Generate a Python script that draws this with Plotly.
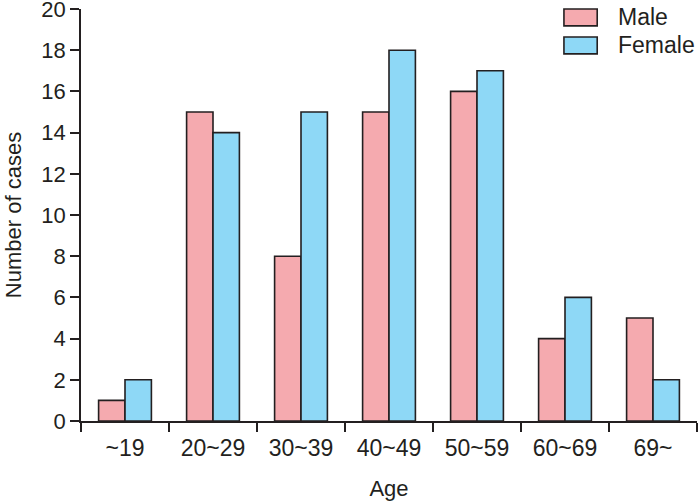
import plotly.graph_objects as go

categories = ["~19", "20~29", "30~39", "40~49", "50~59", "60~69", "69~"]
male = [1, 15, 8, 15, 16, 4, 5]
female = [2, 14, 15, 18, 17, 6, 2]
series_names = ["Male", "Female"]
colors = ["#F5AAAF", "#8ED8F6"]
y_ticks = list(range(0, 21, 2))

line_col = "#231F20"
family = "Liberation Sans, Arial, sans-serif"
font = dict(family=family, size=22, color=line_col)
legend_font = dict(family=family, size=23, color=line_col)
xtick_font = dict(family=family, size=23, color=line_col)
ytick_font = dict(family=family, size=22, color=line_col)

fig = go.Figure()
for name, vals, col in zip(series_names, [male, female], colors):
    fig.add_trace(go.Bar(
        x=categories, y=vals, name=name,
        marker=dict(color=col, line=dict(color=line_col, width=1.6)),
        showlegend=False, hoverinfo="skip",
    ))

# custom legend (boxes + labels) in paper coordinates
leg_y = [[1.0, 0.959], [0.932, 0.891]]
for (y1, y0), name, col in zip(leg_y, series_names, colors):
    fig.add_shape(type="rect", xref="paper", yref="paper",
                  x0=0.784, x1=0.838, y0=y0, y1=y1,
                  fillcolor=col, line=dict(color=line_col, width=1.6))
    fig.add_annotation(xref="paper", yref="paper", x=0.869, y=(y0 + y1) / 2,
                       text=name, showarrow=False, xanchor="left", yanchor="middle",
                       font=legend_font)

fig.update_layout(
    width=700, height=501,
    margin=dict(l=81, r=3, t=9, b=80, autoexpand=False),
    plot_bgcolor="white", paper_bgcolor="white",
    barmode="group", bargap=0.4, bargroupgap=0,
    font=font,
)
fig.update_xaxes(
    title=dict(text="Age", font=font, standoff=20),
    showline=True, linecolor=line_col, linewidth=1.6,
    ticks="outside", tickson="boundaries", ticklen=9, tickwidth=1.6, tickcolor=line_col,
    ticklabelstandoff=6,
    showgrid=False, tickfont=xtick_font, automargin=False,
)
fig.update_yaxes(
    title=dict(text="Number of cases", font=font, standoff=14),
    range=[0, 20], tickvals=y_ticks, ticklabeloverflow="allow",
    showline=True, linecolor=line_col, linewidth=1.6,
    ticks="outside", ticklen=9, tickwidth=1.6, tickcolor=line_col,
    showgrid=False, zeroline=False, tickfont=ytick_font, automargin=False,
)

fig.write_html("out.html", config={"displayModeBar": False},
               post_script="document.body.style.margin='0';")
